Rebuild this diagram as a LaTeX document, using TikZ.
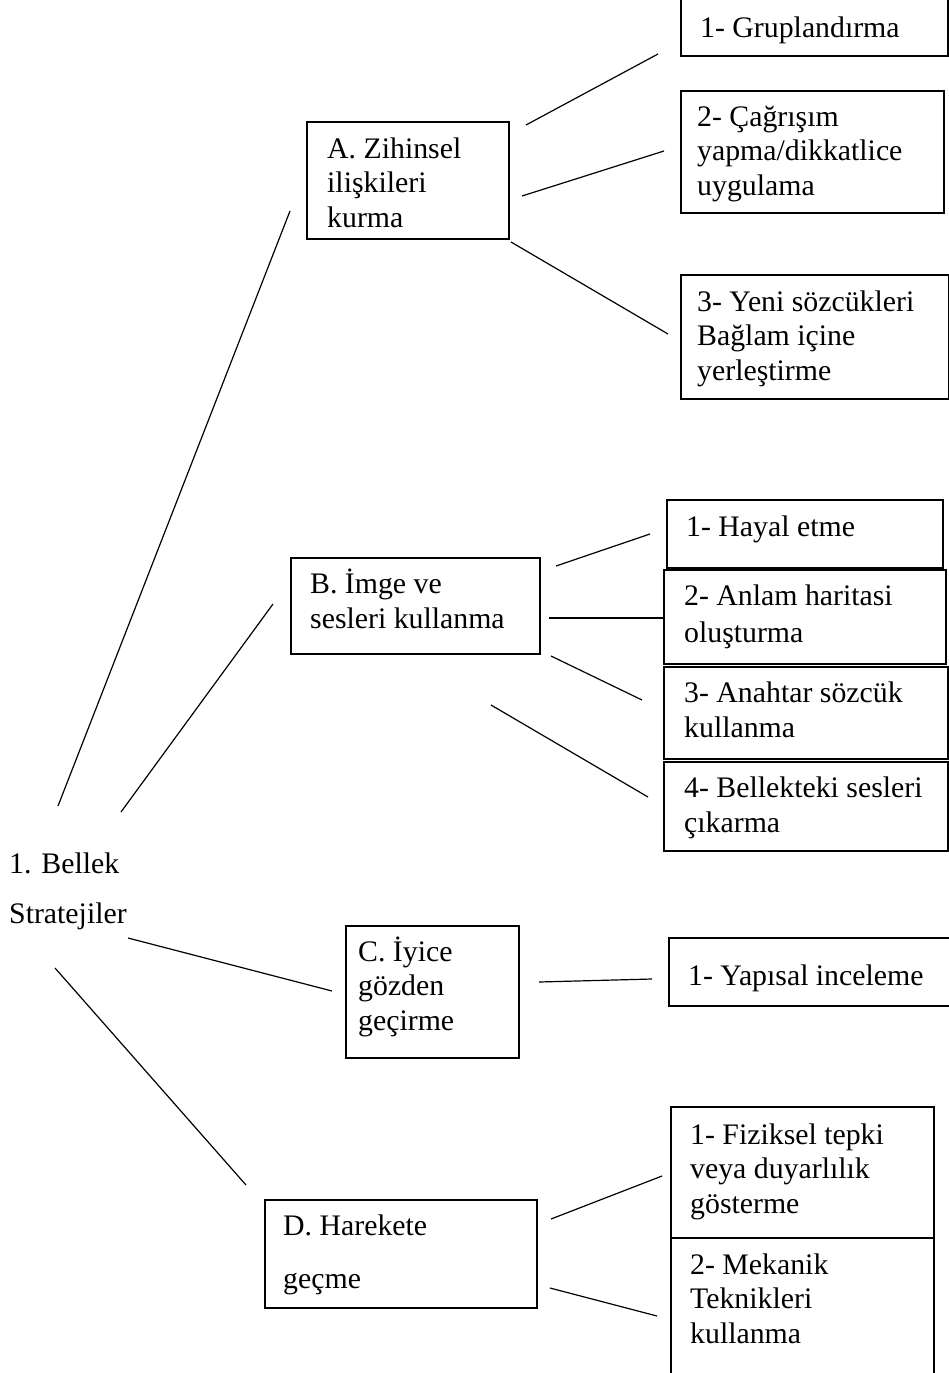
\documentclass[tikz,border=0pt]{standalone}
\usepackage{fontspec}
\setmainfont{Liberation Serif}
\newcommand{\fsz}{\fontsize{29.8}{34.5}\selectfont}
\begin{document}
\begin{tikzpicture}[x=1pt,y=-1pt,
  box/.style={draw,line width=1.5pt,inner sep=0pt,anchor=north west},
  txt/.style={anchor=base west,inner sep=0pt,align=left,font=\fsz},
  conn/.style={line width=1.2pt}]
\useasboundingbox (0,0) rectangle (949,1373);
% boxes
\node[box,minimum width=202pt,minimum height=117pt] (A) at (306,121) {};
\node[box,minimum width=267pt,minimum height=59pt] (A1) at (680,-4) {};
\node[box,minimum width=263pt,minimum height=122pt] (A2) at (680,90) {};
\node[box,minimum width=268pt,minimum height=124pt] (A3) at (680,274) {};
\node[box,minimum width=249pt,minimum height=96pt] (B) at (290,557) {};
\node[box,minimum width=276pt,minimum height=68pt] (B1) at (666,499) {};
\node[box,minimum width=282pt,minimum height=94pt] (B2) at (663,569) {};
\node[box,minimum width=284pt,minimum height=92pt] (B3) at (663,666) {};
\node[box,minimum width=284pt,minimum height=89pt] (B4) at (663,761) {};
\node[box,minimum width=173pt,minimum height=132pt] (C) at (345,925) {};
\node[box,minimum width=285pt,minimum height=68pt] (C1) at (668,937) {};
\node[box,minimum width=272pt,minimum height=108pt] (D) at (264,1199) {};
\node[box,minimum width=263pt,minimum height=131pt] (D1) at (670,1106) {};
\node[box,minimum width=263pt,minimum height=150pt] (D2) at (670,1237) {};
% texts (anchor = baseline of the last line)
\node[txt] (rt1) at (9,873) {1. Bellek};
\node[txt] (rt2) at (9,923) {Stratejiler};
\node[txt] (tA) at (327,227) {A. Zihinsel\\ilişkileri\\kurma};
\node[txt] (tA1) at (700,37) {1- Gruplandırma};
\node[txt] (tA2) at (697,195) {2- Çağrışım\\yapma/dikkatlice\\uygulama};
\node[txt] (tA3) at (697,380) {3- Yeni sözcükleri\\Bağlam içine\\yerleştirme};
\node[txt] (tB) at (310,628) {B. İmge ve\\sesleri kullanma};
\node[txt] (tB1) at (686,536) {1- Hayal etme};
\node[txt] (tB2) at (684,642) {2- Anlam haritasi\\[2pt]oluşturma};
\node[txt] (tB3) at (684,737) {3- Anahtar sözcük\\kullanma};
\node[txt] (tB4) at (684,832) {4- Bellekteki sesleri\\çıkarma};
\node[txt] (tC) at (358,1030) {C. İyice\\gözden\\geçirme};
\node[txt] (tC1) at (688,985) {1- Yapısal inceleme};
\node[txt] (tD) at (283,1288) {D. Harekete\\[18pt]geçme};
\node[txt] (tD1) at (690,1213) {1- Fiziksel tepki\\veya duyarlılık\\gösterme};
\node[txt] (tD2) at (690,1343) {2- Mekanik\\Teknikleri\\kullanma};
% connector ends
\coordinate (rA) at (58,806);  \coordinate (aIn) at (290,211);
\coordinate (rB) at (121,812); \coordinate (bIn) at (273,604);
\coordinate (rC) at (128,938); \coordinate (cIn) at (332,991);
\coordinate (rD) at (55,968);  \coordinate (dIn) at (246,1185);
\coordinate (a1o) at (526,125); \coordinate (a1i) at (658,54);
\coordinate (a2o) at (522,196); \coordinate (a2i) at (664,151);
\coordinate (a3o) at (511,242); \coordinate (a3i) at (668,334);
\coordinate (b1o) at (556,566); \coordinate (b1i) at (650,534);
\coordinate (b2o) at (549,618);
\coordinate (b3o) at (551,656); \coordinate (b3i) at (642,700);
\coordinate (b4o) at (491,705); \coordinate (b4i) at (648,797);
\coordinate (c1o) at (539,982); \coordinate (c1i) at (652,979);
\coordinate (d1o) at (551,1219); \coordinate (d1i) at (662,1176);
\coordinate (d2o) at (550,1288); \coordinate (d2i) at (657,1316);
% connectors
\draw[conn] (rA) -- (aIn);
\draw[conn] (rB) -- (bIn);
\draw[conn] (rC) -- (cIn);
\draw[conn] (rD) -- (dIn);
\draw[conn] (a1o) -- (a1i);
\draw[conn] (a2o) -- (a2i);
\draw[conn] (a3o) -- (a3i);
\draw[conn] (b1o) -- (b1i);
\draw[conn] (b2o) -- (B2.west |- b2o);
\draw[conn] (b3o) -- (b3i);
\draw[conn] (b4o) -- (b4i);
\draw[conn] (c1o) -- (c1i);
\draw[conn] (d1o) -- (d1i);
\draw[conn] (d2o) -- (d2i);
\end{tikzpicture}
\end{document}
